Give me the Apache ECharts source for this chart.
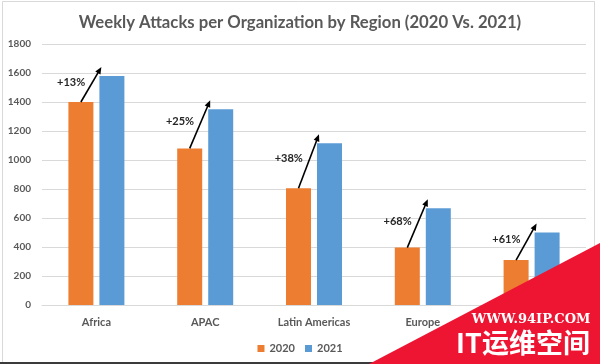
<!DOCTYPE html>
<html>
<head>
<meta charset="utf-8">
<script src="https://cdn.jsdelivr.net/npm/echarts@6/dist/echarts.min.js"></script>
<style>html,body{margin:0;padding:0;background:#fff}#c{width:600px;height:364px}</style>
</head>
<body>
<div id="c"></div>
<script>
const categories = ["Africa", "APAC", "Latin Americas", "Europe", "North America"];
const values2020 = [1400, 1080, 805, 396, 310];
const values2021 = [1580, 1350, 1115, 667, 500];
const growthLabels = ["+13%", "+25%", "+38%", "+68%", "+61%"];
const yTicks = { min: 0, max: 1800, interval: 200 };

const FONT = 'Lato, "Open Sans", sans-serif';
const chart = echarts.init(document.getElementById('c'), null, { renderer: 'canvas' });

const arrowData = categories.map((c, i) => [i, values2020[i], values2021[i], growthLabels[i]]);

chart.setOption({
  animation: false,
  backgroundColor: '#ffffff',
  title: {
    text: 'Weekly Attacks per Organization by Region (2020 Vs. 2021)',
    left: 'center',
    top: 9,
    textStyle: { fontFamily: FONT, fontSize: 16.7, fontWeight: 'bold', color: '#595959' }
  },
  legend: {
    data: ['2020', '2021'],
    left: 'center',
    top: 338,
    icon: 'rect',
    itemWidth: 7,
    itemHeight: 7,
    itemGap: 10,
    textStyle: { fontFamily: FONT, fontSize: 11, fontWeight: 'bold', color: '#595959' }
  },
  grid: { left: 42, right: 14, top: 44, bottom: 59, containLabel: false },
  xAxis: {
    type: 'category',
    data: categories,
    axisTick: { show: false },
    axisLine: { lineStyle: { color: '#D9D9D9' } },
    axisLabel: { margin: 12, fontFamily: FONT, fontSize: 11, fontWeight: 'bold', color: '#595959' }
  },
  yAxis: {
    type: 'value',
    min: yTicks.min, max: yTicks.max, interval: yTicks.interval,
    axisLine: { show: false },
    axisTick: { show: false },
    splitLine: { lineStyle: { color: '#D9D9D9' } },
    axisLabel: { margin: 11, formatter: function (v) { return String(v); }, fontFamily: FONT, fontSize: 10, fontWeight: 'bold', color: '#595959' }
  },
  series: [
    { name: '2020', type: 'bar', data: values2020, barWidth: 25, barGap: '24%', itemStyle: { color: '#ED7D31' } },
    { name: '2021', type: 'bar', data: values2021, barWidth: 25, itemStyle: { color: '#5B9BD5' } },
    {
      name: 'growth',
      type: 'custom',
      data: arrowData,
      encode: { x: 0, y: 1 },
      z: 10,
      silent: true,
      renderItem: function (params, api) {
        const idx = api.value(0);
        const p20 = api.coord([idx, api.value(1)]);
        const p21 = api.coord([idx, api.value(2)]);
        const sx = p20[0] - 15.5, sy = p20[1];
        const ex = p21[0] + 5, ey = p21[1] - 9;
        const dx = ex - sx, dy = ey - sy;
        const len = Math.sqrt(dx * dx + dy * dy);
        const ux = dx / len, uy = dy / len;
        const hl = 7, hw = 3;
        const bx = ex - ux * hl, by = ey - uy * hl;
        const t = 0.55;
        const lx = sx + dx * t - 21, ly = sy + dy * t;
        return {
          type: 'group',
          children: [
            { type: 'line', shape: { x1: sx, y1: sy, x2: bx + ux * 1, y2: by + uy * 1 }, style: { stroke: '#000', lineWidth: 1.6 } },
            { type: 'polygon', shape: { points: [[ex, ey], [bx - uy * hw, by + ux * hw], [bx + uy * hw, by - ux * hw]] }, style: { fill: '#000' } },
            { type: 'text', x: lx, y: ly, style: { text: api.value(3), fill: '#262626', font: 'bold 11px ' + FONT, align: 'center', verticalAlign: 'middle' } }
          ]
        };
      }
    }
  ],
  graphic: [
    { type: 'rect', shape: { x: 2.5, y: 1.5, width: 592, height: 361 }, style: { fill: 'none', stroke: '#D9D9D9', lineWidth: 1 }, z: 50 },
    { type: 'rect', shape: { x: 0, y: 362, width: 600, height: 2 }, style: { fill: '#3a3a3a' }, z: 51 },
    { type: 'polygon', shape: { points: [[369, 364], [600, 243], [600, 364]] }, style: { fill: '#EE1533' }, z: 100 },
    { type: 'text', x: 531, y: 320, style: { text: 'WWW.94IP.COM', fill: '#ffffff', font: 'bold 13px "DejaVu Serif", serif', align: 'center', verticalAlign: 'middle' }, z: 101 },
    { type: 'text', x: 523, y: 343, style: { text: 'IT运维空间', fill: '#ffffff', font: 'bold 27px "Noto Sans CJK SC", sans-serif', align: 'center', verticalAlign: 'middle' }, z: 101 }
  ]
});
</script>
</body>
</html>
